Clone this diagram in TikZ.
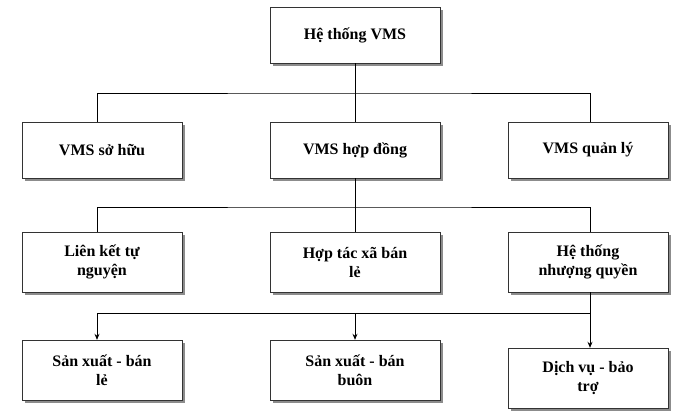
\documentclass[tikz,border=0pt]{standalone}
\usepackage{fontspec}
\setmainfont{Liberation Serif}
\usetikzlibrary{shadows,arrows.meta}
\begin{document}
\begin{tikzpicture}[x=1pt,y=-1pt,
  box/.style={draw=black!80,fill=white,minimum width=160pt,minimum height=56pt,align=center,font=\fontsize{16}{19}\selectfont\bfseries,drop shadow={shadow xshift=3pt,shadow yshift=-3pt,fill=black!45,opacity=1}},
  wide/.style={minimum width=170pt},
  ln/.style={draw=black,line width=0.8pt},
  ar/.style={ln,-{Stealth[length=6pt,width=5pt]}}]
\useasboundingbox (0,0) rectangle (692,417);
\node[box,wide] (top) at (355,35) {Hệ thống VMS};
\node[box] (a1) at (102,150) {VMS sở hữu};
\node[box,wide] (a2) at (355,150) {VMS hợp đồng};
\node[box] (a3) at (588,150) {VMS quản lý};
\node[box,minimum height=60pt] (b1) at (102,262) {Liên kết tự\\nguyện};
\node[box,wide,minimum height=60pt] (b2) at (355,262) {Hợp tác xã bán\\lẻ};
\node[box,minimum height=60pt] (b3) at (588,262) {Hệ thống\\nhượng quyền};
\node[box,minimum height=60pt] (c1) at (102,370) {Sản xuất - bán\\lẻ};
\node[box,wide,minimum height=60pt] (c2) at (355,370) {Sản xuất - bán\\buôn};
\node[box,minimum height=60pt] (c3) at (588,378) {Dịch vụ - bảo\\trợ};
\coordinate (j1) at (355,93);
\draw[ln] (top.south) -- (j1);
\draw[ln] (a1.north -| 97,0) |- (j1) -| (a3.north -| 590,0);
\draw[ln] (j1) -- (a2.north);
\coordinate (j2) at (355,207);
\draw[ln] (a2.south) -- (j2);
\draw[ln] (b1.north -| 97,0) |- (j2) -| (b3.north -| 590,0);
\draw[ln] (j2) -- (b2.north);
\coordinate (j3) at (590,313);
\draw[ln] (b3.south -| 590,0) -- (j3);
\draw[ar] (j3) -| (c1.north -| 97,0);
\draw[ar] (355,313) -- (c2.north);
\draw[ar] (j3) -- (c3.north -| 590,0);
\end{tikzpicture}
\end{document}
